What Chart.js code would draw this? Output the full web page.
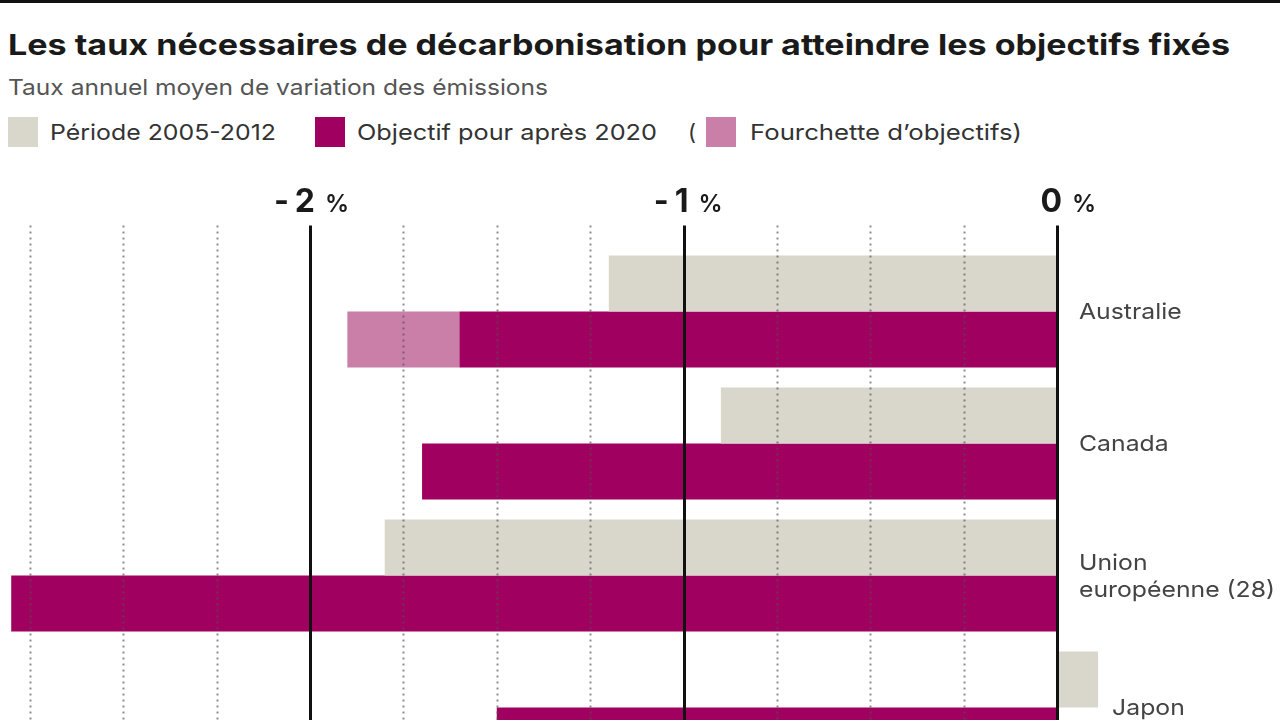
<!DOCTYPE html>
<html lang="fr">
<head>
<meta charset="utf-8">
<script src="https://cdn.jsdelivr.net/npm/chart.js@4/dist/chart.umd.min.js"></script>
<style>
  html, body { margin: 0; padding: 0; width: 1280px; height: 720px; overflow: hidden; background: #fff; }
  body { font-family: Inter, Roboto, sans-serif; position: relative; }
  .rule { position: absolute; left: 0; top: 0; width: 1280px; height: 3px; background: #111; }
  .fit { display: inline-block; transform-origin: 0 50%; white-space: nowrap; }
  .title { position: absolute; left: 8px; top: 27px; font-size: 29px; font-weight: 700; color: #1a1a1a; }
  .sub { position: absolute; left: 8px; top: 74px; font-size: 22px; color: #555; }
  .legend { position: absolute; left: 0; top: 117px; height: 30px; font-size: 22px; color: #333; }
  .legend span { position: absolute; top: 0; line-height: 30px; }
  .legend i { position: absolute; top: 0; width: 30px; height: 30px; }
  .wrap { position: absolute; left: 0; top: 0; width: 1280px; height: 800px; }
</style>
</head>
<body>
<div class="rule"></div>
<div class="title"><span class="fit" data-w="1222">Les taux nécessaires de décarbonisation pour atteindre les objectifs fixés</span></div>
<div class="sub"><span class="fit" data-w="540">Taux annuel moyen de variation des émissions</span></div>
<div class="legend">
  <i style="left:8px;background:#d9d7cc"></i><span class="fit" data-w="226" style="left:50px">Période 2005-2012</span>
  <i style="left:315px;background:#a0005f"></i><span class="fit" data-w="300" style="left:357px">Objectif pour après 2020</span>
  <span style="left:688px">(</span>
  <i style="left:706px;background:#c97fa8"></i><span class="fit" data-w="272" style="left:750px">Fourchette d’objectifs)</span>
</div>
<div class="wrap"><canvas id="decarbChart"></canvas></div>
<script>
// data (% per year)
const categories = ['Australie', 'Canada', ['Union', 'européenne (28)'], 'Japon'];
const periode2005_2012 = [-1.20, -0.90, -1.80, 0.11];
const objectifApres2020 = [-1.60, -1.70, -2.80, -1.50];
const fourchetteMin = [-1.90, null, null, null];
const tickValues = [-2, -1, 0];
const gridStep = 0.25;

const rangeData = fourchetteMin.map((v, i) => v === null ? null : [v, objectifApres2020[i]]);

// stretch header texts to the widths seen in the picture
document.querySelectorAll('.fit').forEach(el => {
  const w = el.getBoundingClientRect().width;
  el.style.transform = 'scaleX(' + (el.dataset.w / w) + ')';
});

// grid, top ticks and country names
const overlay = {
  id: 'overlay',
  afterDatasetsDraw(chart) {
    const { ctx, chartArea, scales } = chart;
    const x = scales.x, y = scales.y;
    const top = chartArea.top - 20;
    const bottom = chart.height;
    ctx.save();
    for (let v = Math.ceil(x.min / gridStep) * gridStep; v <= 0.001; v += gridStep) {
      const px = Math.round(x.getPixelForValue(v)) + 0.5;
      const solid = Math.abs(v - Math.round(v)) < 0.001;
      ctx.beginPath();
      if (solid) {
        ctx.setLineDash([]);
        ctx.strokeStyle = '#111';
        ctx.lineWidth = 3;
      } else {
        ctx.setLineDash([2, 4]);
        ctx.strokeStyle = 'rgba(80,80,80,0.65)';
        ctx.lineWidth = 2;
      }
      ctx.moveTo(px, top);
      ctx.lineTo(px, bottom);
      ctx.stroke();
    }
    ctx.setLineDash([]);

    // tick labels: bold number, small %
    ctx.fillStyle = '#1a1a1a';
    ctx.textBaseline = 'alphabetic';
    const base = chartArea.top - 34;
    tickValues.forEach(v => {
      const px = x.getPixelForValue(v);
      ctx.font = 'bold 32px Inter';
      ctx.textAlign = 'right';
      const num = String(Math.abs(v));
      ctx.fillText(num, px + 5, base);
      if (v < 0) {
        const nw = ctx.measureText(num).width;
        ctx.fillText('-', px + 5 - nw - 6, base);
      }
      ctx.font = '600 24px Inter';
      ctx.textAlign = 'left';
      ctx.fillText('%', px + 15, base);
    });

    // country labels
    ctx.font = '22px Inter';
    ctx.fillStyle = '#444';
    ctx.textAlign = 'left';
    ctx.textBaseline = 'middle';
    const sx = 196 / ctx.measureText('européenne (28)').width;
    categories.forEach((c, i) => {
      const cy = y.getPixelForValue(i) + 1;
      const lx = Math.max(x.getPixelForValue(0) + 22, x.getPixelForValue(periode2005_2012[i]) + 14);
      const lines = Array.isArray(c) ? c : [c];
      lines.forEach((t, k) => {
        ctx.save();
        ctx.translate(lx, cy + (k - (lines.length - 1) / 2) * 27);
        ctx.scale(sx, 1);
        ctx.fillText(t, 0, 0);
        ctx.restore();
      });
    });
    ctx.restore();
  }
};

const ctx = document.getElementById('decarbChart').getContext('2d');
const decarbChart = new Chart(ctx, {
  type: 'bar',
  data: {
    labels: categories,
    datasets: [{
      label: 'Période 2005-2012',
      data: periode2005_2012,
      backgroundColor: '#d9d7cc',
      stack: 'a'
    }, {
      label: 'Objectif pour après 2020',
      data: objectifApres2020,
      backgroundColor: '#a0005f',
      stack: 'b'
    }, {
      label: 'Fourchette d’objectifs',
      data: rangeData,
      backgroundColor: '#c97fa8',
      stack: 'b'
    }]
  },
  options: {
    indexAxis: 'y',
    responsive: true,
    maintainAspectRatio: false,
    animation: false,
    categoryPercentage: 112 / 132,
    barPercentage: 1,
    layout: { padding: { top: 245.5, bottom: 26.5, left: 0, right: 0 } },
    plugins: { legend: { display: false }, tooltip: { enabled: false } },
    scales: {
      x: { display: false, stacked: false, min: -2.83, max: 0.597 },
      y: { display: false }
    }
  },
  plugins: [overlay]
});
</script>
</body>
</html>
